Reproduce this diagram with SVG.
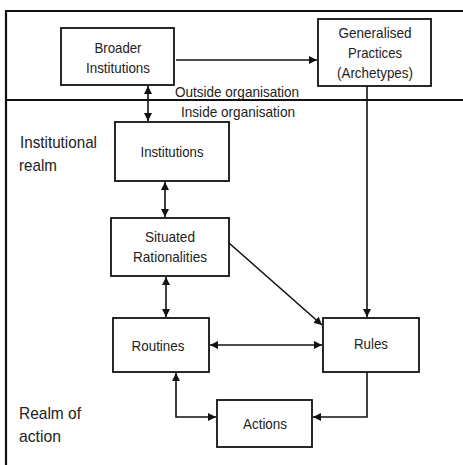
<svg xmlns="http://www.w3.org/2000/svg" width="463" height="465" viewBox="0 0 463 465">
<defs>
<marker id="ah" viewBox="0 0 10 10" refX="10" refY="5" markerWidth="8" markerHeight="8" markerUnits="userSpaceOnUse" orient="auto-start-reverse">
<path d="M0,0 L10,5 L0,10 z" fill="#111"/>
</marker>
<style>
.box{fill:#fff;stroke:#111;stroke-width:1.8}
.t{font-family:"Liberation Sans",Arial,sans-serif;font-size:15px;fill:#222;text-anchor:middle}
.l{font-family:"Liberation Sans",Arial,sans-serif;font-size:17px;fill:#222}
.c{fill:none;stroke:#111;stroke-width:1.6}
.f{fill:none;stroke:#111;stroke-width:2.2}
</style>
</defs>
<rect width="463" height="465" fill="#fff"/>
<g id="frame">
<path class="f" d="M6,465 V11 H463"/>
<path class="f" d="M6,100 H463"/>
</g>
<g id="labels">
<text class="t" x="237" y="97" textLength="124" lengthAdjust="spacingAndGlyphs">Outside organisation</text>
<text class="t" x="238" y="117" textLength="114" lengthAdjust="spacingAndGlyphs">Inside organisation</text>
<text class="l" x="20" y="148" textLength="77" lengthAdjust="spacingAndGlyphs">Institutional</text>
<text class="l" x="19" y="171" textLength="38" lengthAdjust="spacingAndGlyphs">realm</text>
<text class="l" x="19" y="419" textLength="62" lengthAdjust="spacingAndGlyphs">Realm of</text>
<text class="l" x="19" y="442" textLength="42" lengthAdjust="spacingAndGlyphs">action</text>
</g>
<g id="connectors">
<line class="c" x1="176" y1="60" x2="317" y2="60" marker-end="url(#ah)"/>
<line class="c" x1="148" y1="86" x2="148" y2="121" marker-start="url(#ah)" marker-end="url(#ah)"/>
<line class="c" x1="165" y1="182" x2="165" y2="217" marker-start="url(#ah)" marker-end="url(#ah)"/>
<line class="c" x1="166" y1="277" x2="166" y2="317" marker-start="url(#ah)" marker-end="url(#ah)"/>
<line class="c" x1="229" y1="243" x2="322" y2="325" marker-end="url(#ah)"/>
<line class="c" x1="367" y1="86" x2="367" y2="317" marker-end="url(#ah)"/>
<line class="c" x1="210" y1="345" x2="322" y2="345" marker-start="url(#ah)" marker-end="url(#ah)"/>
<path class="c" d="M176,373 V417 H216" marker-start="url(#ah)" marker-end="url(#ah)"/>
<path class="c" d="M367,372 V417 H313" marker-end="url(#ah)"/>
</g>
<g id="broader">
<rect class="box" x="61" y="28" width="113" height="57"/>
<text class="t" x="118" y="53" textLength="47" lengthAdjust="spacingAndGlyphs">Broader</text>
<text class="t" x="118" y="73" textLength="64" lengthAdjust="spacingAndGlyphs">Institutions</text>
</g>
<g id="generalised">
<rect class="box" x="318" y="19" width="113" height="67"/>
<text class="t" x="375" y="38" textLength="73" lengthAdjust="spacingAndGlyphs">Generalised</text>
<text class="t" x="375" y="58" textLength="54" lengthAdjust="spacingAndGlyphs">Practices</text>
<text class="t" x="375" y="78" textLength="76" lengthAdjust="spacingAndGlyphs">(Archetypes)</text>
</g>
<g id="institutions">
<rect class="box" x="115" y="122" width="114" height="59"/>
<text class="t" x="172" y="157" textLength="63" lengthAdjust="spacingAndGlyphs">Institutions</text>
</g>
<g id="situated">
<rect class="box" x="111" y="218" width="118" height="58"/>
<text class="t" x="170" y="242" textLength="50" lengthAdjust="spacingAndGlyphs">Situated</text>
<text class="t" x="170" y="262" textLength="74" lengthAdjust="spacingAndGlyphs">Rationalities</text>
</g>
<g id="routines">
<rect class="box" x="113" y="318" width="96" height="54"/>
<text class="t" x="158" y="351" textLength="53" lengthAdjust="spacingAndGlyphs">Routines</text>
</g>
<g id="rules">
<rect class="box" x="323" y="318" width="96" height="54"/>
<text class="t" x="371" y="349" textLength="34" lengthAdjust="spacingAndGlyphs">Rules</text>
</g>
<g id="actions">
<rect class="box" x="217" y="400" width="95" height="47"/>
<text class="t" x="265" y="429" textLength="44" lengthAdjust="spacingAndGlyphs">Actions</text>
</g>
</svg>
